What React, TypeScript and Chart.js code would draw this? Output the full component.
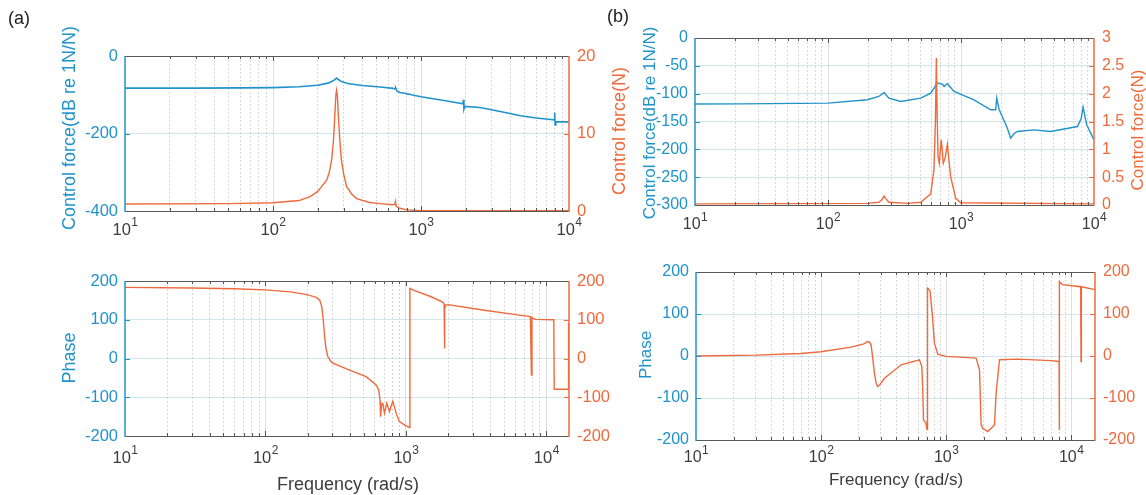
import React, { useEffect, useRef } from 'react';
import { Chart, registerables } from 'chart.js';

Chart.register(...registerables);

// ---------------- data ----------------
// (a) magnitude, dB re 1N/N (left axis)
const A_MAG_FREQ = [10, 30, 60, 100, 150, 200, 235, 255, 269, 275, 290, 320, 400, 530, 650, 668, 674, 690, 720, 790, 815, 835, 860, 1000, 1500, 1920, 1935, 1950, 1975, 2500, 3500, 4700, 6000, 7800, 7950, 8000, 8060, 8150, 10000];
const A_MAG_DB = [-83, -82.8, -82.3, -81.5, -79.5, -75.5, -70, -64, -57, -60, -66, -71, -76, -80, -83.5, -85, -82, -91, -94, -97, -99, -98, -100, -105, -116, -123.5, -113, -137, -130, -133, -144, -154, -160, -164.5, -165, -146, -178, -169.5, -170];
// (a) control force, N (right axis)
const A_FORCE_FREQ = [10, 50, 100, 150, 178, 200, 231, 240, 249, 256, 262, 266, 269, 272, 277, 283, 290, 300, 315, 340, 367, 450, 530, 640, 665, 672, 680, 720, 800, 1000, 10000];
const A_FORCE_N = [0.9, 0.95, 1.07, 1.35, 1.85, 2.5, 4, 5, 6.6, 9, 12.5, 15, 15.6, 15, 12, 9, 6.6, 4.8, 3.1, 2.2, 1.6, 1.1, 0.95, 0.8, 0.85, 1.25, 0.6, 0.35, 0.15, 0.05, 0.05];
// (a) phase
const A_PHASE_FREQ = [10, 30, 60, 100, 150, 190, 215, 232, 244, 252, 258, 264, 270, 278, 290, 302, 397, 521, 614, 641, 655, 660, 672, 685, 704, 731, 764, 807, 852, 900, 1000, 1065, 1068, 1151, 1500, 1840, 1870, 1880, 1895, 1932, 2000, 3524, 6412, 7700, 7830, 7900, 8300, 11300, 11380, 14300, 14400, 14500];
const A_PHASE_DEG = [183.5, 182, 180, 177, 172, 166, 161, 157, 150, 133, 100, 56, 25, 5, -6, -12, -30, -47, -68, -81, -110, -150, -118, -116, -141, -115, -137, -110, -141, -163, -174, -178, 181, 175, 160, 145, 140, 26, 130, 138, 139, 125, 112, 108, -43, 106, 101, 100, -79.5, -79.5, 90, 90];

// (b) magnitude, dB re 1N/N
const B_MAG_FREQ = [10, 22, 100, 198, 241, 264, 287, 352, 498, 592, 640, 656, 690, 724, 745, 790, 830, 886, 1252, 1672, 1822, 1855, 1931, 2233, 2362, 2500, 2652, 3540, 4723, 7513, 8000, 8280, 8810, 10000];
const B_MAG_DB = [-118.5, -118.4, -117, -111, -105, -98, -108, -114, -108, -99, -87, -80, -82, -83, -87, -82, -88, -96, -111, -129, -129, -108, -128, -162, -180, -172, -168, -165, -168, -159, -145, -124, -156, -183];
// (b) control force, N
const B_FORCE_FREQ = [10, 200, 241, 255, 264, 275, 287, 400, 498, 592, 626, 642, 653, 662, 672, 687, 700, 711, 722, 736, 760, 790, 812, 837, 913, 995, 10000];
const B_FORCE_N = [0.02, 0.03, 0.05, 0.1, 0.16, 0.1, 0.05, 0.03, 0.05, 0.2, 0.63, 1.5, 2.64, 1.6, 0.87, 0.75, 1.0, 1.17, 1.0, 0.75, 0.85, 1.09, 0.8, 0.5, 0.12, 0.04, 0.02];
// (b) phase
const B_PHASE_FREQ = [10, 30, 69, 100, 174, 220, 236, 244, 251, 259, 267, 276, 284, 296, 321, 437, 612, 639, 650, 659, 679, 690, 700, 705, 710, 718, 745, 773, 807, 858, 1000, 1738, 1848, 1905, 1930, 1965, 2154, 2436, 2512, 2672, 3744, 6918, 8000, 8030, 8060, 8500, 11900, 11980, 12060, 15500];
const B_PHASE_DEG = [0, 2, 6, 10, 21, 29, 34.5, 33, 26.6, -5, -41, -65, -73, -68, -53, -21, -9, -25, -80, -152, -158, -160, -172, -175, 162, 161, 154, 102, 30, 4.5, -1, -5, -33, -164, -168, -172, -180, -164, -88, -9, -7.5, -11, -13, -176, 177, 170, 165, -13, 165, 158];

// axis ticks
const DECADE_EXPONENTS = [1, 2, 3, 4];
const MINOR_MULTIPLIERS = [1, 2, 3, 4, 5, 6, 7, 8, 9];
const A_TOP_LEFT = { min: -400, max: 0, step: 200 };
const A_TOP_RIGHT = { min: 0, max: 20, step: 10 };
const PHASE_RANGE = { min: -200, max: 200, step: 100 };
const B_TOP_LEFT = { min: -300, max: 0, step: 50 };
const B_TOP_RIGHT = { min: 0, max: 3, step: 0.5 };

// ---------------- styles ----------------
const BLUE = '#2193cb';
const ORANGE = '#ee6a3d';
const DARK = '#3c3c3c';
const FONT = "'Liberation Sans', Arial, Helvetica, sans-serif";
const LEFT_AXIS_W = 60;
const RIGHT_AXIS_W = 45;

const X_TICK_VALUES: number[] = [];
DECADE_EXPONENTS.concat([0]).forEach((e) => {
  MINOR_MULTIPLIERS.forEach((m) => X_TICK_VALUES.push(m * Math.pow(10, e)));
});
X_TICK_VALUES.sort((a, b) => a - b);

const isPow10 = (v: number) => {
  if (v == null || v <= 0) return false;
  const l = Math.log10(v);
  return Math.abs(l - Math.round(l)) < 1e-9;
};

type Range = { min: number; max: number; step: number };
type Series = { f: number[]; v: number[]; color: string; axis: 'y' | 'y1'; width: number };
type TextItem = { text: string; x: number; y: number; color: string; size: number; rotate?: boolean; align?: CanvasTextAlign };
type Panel = {
  key: string;
  area: { l: number; t: number; r: number; b: number };
  pad: { l: number; t: number; r: number; b: number };
  xMax: number;
  left: Range;
  right: Range;
  series: Series[];
  tickSize: number;
  xLabelY: number;
  texts: TextItem[];
};

const decorPlugin = {
  id: 'decor',
  afterDraw(chart: any, _args: any, opts: any) {
    const { ctx, chartArea: ca, scales } = chart;
    const xs = scales.x;
    const yl = scales.y;
    const yr = scales.y1;
    const ox = opts.ox as number;
    const oy = opts.oy as number;
    ctx.save();
    // inward x ticks (bottom and top)
    ctx.lineWidth = 1;
    ctx.strokeStyle = '#555';
    for (const v of X_TICK_VALUES) {
      if (v <= xs.min || v >= xs.max) continue;
      const px = Math.round(xs.getPixelForValue(v)) + 0.5;
      const len = isPow10(v) ? 5 : 3;
      ctx.beginPath();
      ctx.moveTo(px, ca.bottom);
      ctx.lineTo(px, ca.bottom - len);
      ctx.moveTo(px, ca.top);
      ctx.lineTo(px, ca.top + len);
      ctx.stroke();
    }
    // inward y ticks
    ctx.strokeStyle = BLUE;
    yl.ticks.forEach((t: any) => {
      const py = Math.round(yl.getPixelForValue(t.value)) + 0.5;
      ctx.beginPath();
      ctx.moveTo(ca.left, py);
      ctx.lineTo(ca.left + 5, py);
      ctx.stroke();
    });
    ctx.strokeStyle = ORANGE;
    yr.ticks.forEach((t: any) => {
      const py = Math.round(yr.getPixelForValue(t.value)) + 0.5;
      ctx.beginPath();
      ctx.moveTo(ca.right, py);
      ctx.lineTo(ca.right - 5, py);
      ctx.stroke();
    });
    // box
    ctx.lineWidth = 1;
    ctx.strokeStyle = '#5a5a5a';
    ctx.beginPath();
    ctx.moveTo(ca.left, ca.top + 0.5);
    ctx.lineTo(ca.right, ca.top + 0.5);
    ctx.moveTo(ca.left, ca.bottom + 0.5);
    ctx.lineTo(ca.right, ca.bottom + 0.5);
    ctx.stroke();
    ctx.lineWidth = 1.5;
    ctx.strokeStyle = BLUE;
    ctx.beginPath();
    ctx.moveTo(ca.left, ca.top);
    ctx.lineTo(ca.left, ca.bottom + 1);
    ctx.stroke();
    ctx.strokeStyle = ORANGE;
    ctx.beginPath();
    ctx.moveTo(ca.right, ca.top);
    ctx.lineTo(ca.right, ca.bottom + 1);
    ctx.stroke();
    // x tick labels 10^n
    const size = opts.tickSize as number;
    const expSize = Math.round(size * 0.72);
    ctx.fillStyle = DARK;
    ctx.textBaseline = 'middle';
    ctx.textAlign = 'left';
    for (const e of DECADE_EXPONENTS) {
      const v = Math.pow(10, e);
      if (v < xs.min - 1e-6 || v > xs.max + 1e-6) continue;
      const px = xs.getPixelForValue(v);
      ctx.font = `${size}px ${FONT}`;
      const w1 = ctx.measureText('10').width;
      ctx.font = `${expSize}px ${FONT}`;
      const w2 = ctx.measureText(String(e)).width;
      const x0 = px - (w1 + w2) / 2;
      const yc = opts.xLabelY - oy;
      ctx.font = `${size}px ${FONT}`;
      ctx.fillText('10', x0, yc);
      ctx.font = `${expSize}px ${FONT}`;
      ctx.fillText(String(e), x0 + w1 + 0.5, yc - 7);
    }
    // other texts
    for (const t of opts.texts as TextItem[]) {
      ctx.save();
      ctx.font = `${t.size}px ${FONT}`;
      ctx.fillStyle = t.color;
      ctx.textBaseline = 'middle';
      ctx.textAlign = t.align || 'center';
      ctx.translate(t.x - ox, t.y - oy);
      if (t.rotate) ctx.rotate(-Math.PI / 2);
      ctx.fillText(t.text, 0, 0);
      ctx.restore();
    }
    ctx.restore();
  },
};

const MAJOR_GRID = 'rgba(0,0,0,0.13)';
const MINOR_GRID = 'rgba(0,0,0,0.2)';
const Y_GRID = 'rgba(160,195,215,0.45)';

const fmtTick = (v: any) => String(Math.round(Number(v) * 1000) / 1000);

function PanelChart({ p }: { p: Panel }) {
  const ref = useRef<HTMLCanvasElement>(null);
  const W = p.area.r - p.area.l + p.pad.l + p.pad.r;
  const H = p.area.b - p.area.t + p.pad.t + p.pad.b;
  const ox = p.area.l - p.pad.l;
  const oy = p.area.t - p.pad.t;

  useEffect(() => {
    const canvas = ref.current!;
    const chart = new Chart(canvas, {
      type: 'line',
      data: {
        datasets: p.series.map((s) => ({
          data: s.f.map((x, i) => ({ x, y: s.v[i] })),
          borderColor: s.color,
          borderWidth: s.width,
          pointRadius: 0,
          tension: 0,
          fill: false,
          yAxisID: s.axis,
        })),
      },
      options: {
        responsive: false,
        maintainAspectRatio: false,
        animation: false,
        events: [],
        devicePixelRatio: 1,
        layout: {
          padding: {
            left: p.pad.l - LEFT_AXIS_W,
            right: p.pad.r - RIGHT_AXIS_W,
            top: p.pad.t,
            bottom: p.pad.b,
          },
        },
        plugins: {
          legend: { display: false },
          tooltip: { enabled: false },
          decor: { ox, oy, tickSize: p.tickSize, xLabelY: p.xLabelY, texts: p.texts },
        } as any,
        scales: {
          x: {
            type: 'logarithmic',
            min: 10,
            max: p.xMax,
            afterFit: (s: any) => { s.height = 0; },
            afterBuildTicks: (scale: any) => {
              scale.ticks = X_TICK_VALUES.filter((v) => v >= 10 && v <= p.xMax).map((v) => ({ value: v }));
            },
            ticks: { display: false },
            border: {
              display: false,
              dash: (ctx: any) => (ctx.tick && isPow10(ctx.tick.value) ? [] : [1.5, 2.5]),
            },
            grid: {
              drawTicks: false,
              color: (ctx: any) => {
                const v = ctx.tick ? ctx.tick.value : null;
                if (v == null || v <= 10 || v >= p.xMax) return 'rgba(0,0,0,0)';
                return isPow10(v) ? MAJOR_GRID : MINOR_GRID;
              },
            },
          },
          y: {
            type: 'linear',
            position: 'left',
            min: p.left.min,
            max: p.left.max,
            afterFit: (s: any) => { s.width = LEFT_AXIS_W; },
            ticks: { stepSize: p.left.step, color: BLUE, padding: 7, font: { size: p.tickSize, family: FONT }, callback: fmtTick },
            border: { display: false },
            grid: {
              drawTicks: false,
              color: (ctx: any) => {
                const v = ctx.tick ? ctx.tick.value : null;
                if (v == null || v <= p.left.min || v >= p.left.max) return 'rgba(0,0,0,0)';
                return Y_GRID;
              },
            },
          },
          y1: {
            type: 'linear',
            position: 'right',
            min: p.right.min,
            max: p.right.max,
            afterFit: (s: any) => { s.width = RIGHT_AXIS_W; },
            ticks: { stepSize: p.right.step, color: ORANGE, padding: 8, font: { size: p.tickSize, family: FONT }, callback: fmtTick },
            border: { display: false },
            grid: { drawOnChartArea: false, drawTicks: false },
          },
        },
      },
      plugins: [decorPlugin as any],
    });
    return () => chart.destroy();
  }, []);

  return (
    <canvas
      ref={ref}
      width={W}
      height={H}
      style={{ position: 'absolute', left: ox, top: oy, width: W, height: H }}
    />
  );
}

const PANELS: Panel[] = [
  {
    key: 'a-top',
    area: { l: 125, t: 56, r: 569, b: 211 },
    pad: { l: 125, t: 56, r: 76, b: 34 },
    xMax: 10000,
    left: A_TOP_LEFT,
    right: A_TOP_RIGHT,
    series: [
      { f: A_FORCE_FREQ, v: A_FORCE_N, color: ORANGE, axis: 'y1', width: 1.4 },
      { f: A_MAG_FREQ, v: A_MAG_DB, color: BLUE, axis: 'y', width: 1.6 },
    ],
    tickSize: 16.5,
    xLabelY: 230,
    texts: [
      { text: '(a)', x: 8, y: 19, color: '#222', size: 18, align: 'left' },
      { text: '(b)', x: 607, y: 17, color: '#222', size: 18, align: 'left' },
      { text: 'Control force(dB re 1N/N)', x: 70, y: 128, color: BLUE, size: 18, rotate: true },
      { text: 'Control force(N)', x: 620, y: 131, color: ORANGE, size: 18, rotate: true },
    ],
  },
  {
    key: 'a-bot',
    area: { l: 125, t: 281, r: 569, b: 436 },
    pad: { l: 125, t: 31, r: 76, b: 59 },
    xMax: 14500,
    left: PHASE_RANGE,
    right: PHASE_RANGE,
    series: [{ f: A_PHASE_FREQ, v: A_PHASE_DEG, color: ORANGE, axis: 'y', width: 1.4 }],
    tickSize: 16.5,
    xLabelY: 458,
    texts: [
      { text: 'Phase', x: 70, y: 358, color: BLUE, size: 18, rotate: true },
      { text: 'Frequency (rad/s)', x: 348, y: 485, color: DARK, size: 18 },
    ],
  },
  {
    key: 'b-top',
    area: { l: 695, t: 38, r: 1094, b: 205 },
    pad: { l: 67, t: 38, r: 52, b: 35 },
    xMax: 10000,
    left: B_TOP_LEFT,
    right: B_TOP_RIGHT,
    series: [
      { f: B_FORCE_FREQ, v: B_FORCE_N, color: ORANGE, axis: 'y1', width: 1.4 },
      { f: B_MAG_FREQ, v: B_MAG_DB, color: BLUE, axis: 'y', width: 1.4 },
    ],
    tickSize: 16,
    xLabelY: 225,
    texts: [
      { text: 'Control force(dB re 1N/N)', x: 650, y: 123, color: BLUE, size: 17, rotate: true },
      { text: 'Control force(N)', x: 1138, y: 130, color: ORANGE, size: 17, rotate: true },
    ],
  },
  {
    key: 'b-bot',
    area: { l: 696, t: 272, r: 1095, b: 440 },
    pad: { l: 68, t: 22, r: 51, b: 55 },
    xMax: 15500,
    left: PHASE_RANGE,
    right: PHASE_RANGE,
    series: [{ f: B_PHASE_FREQ, v: B_PHASE_DEG, color: ORANGE, axis: 'y', width: 1.4 }],
    tickSize: 16,
    xLabelY: 458,
    texts: [
      { text: 'Phase', x: 646, y: 355, color: BLUE, size: 17, rotate: true },
      { text: 'Frequency (rad/s)', x: 896, y: 480, color: DARK, size: 17 },
    ],
  },
];

export default function App() {
  return (
    <div style={{ position: 'fixed', left: 0, top: 0, width: 1146, height: 495, background: '#fff', overflow: 'hidden' }}>
      {PANELS.map((p) => (
        <PanelChart key={p.key} p={p} />
      ))}
    </div>
  );
}
